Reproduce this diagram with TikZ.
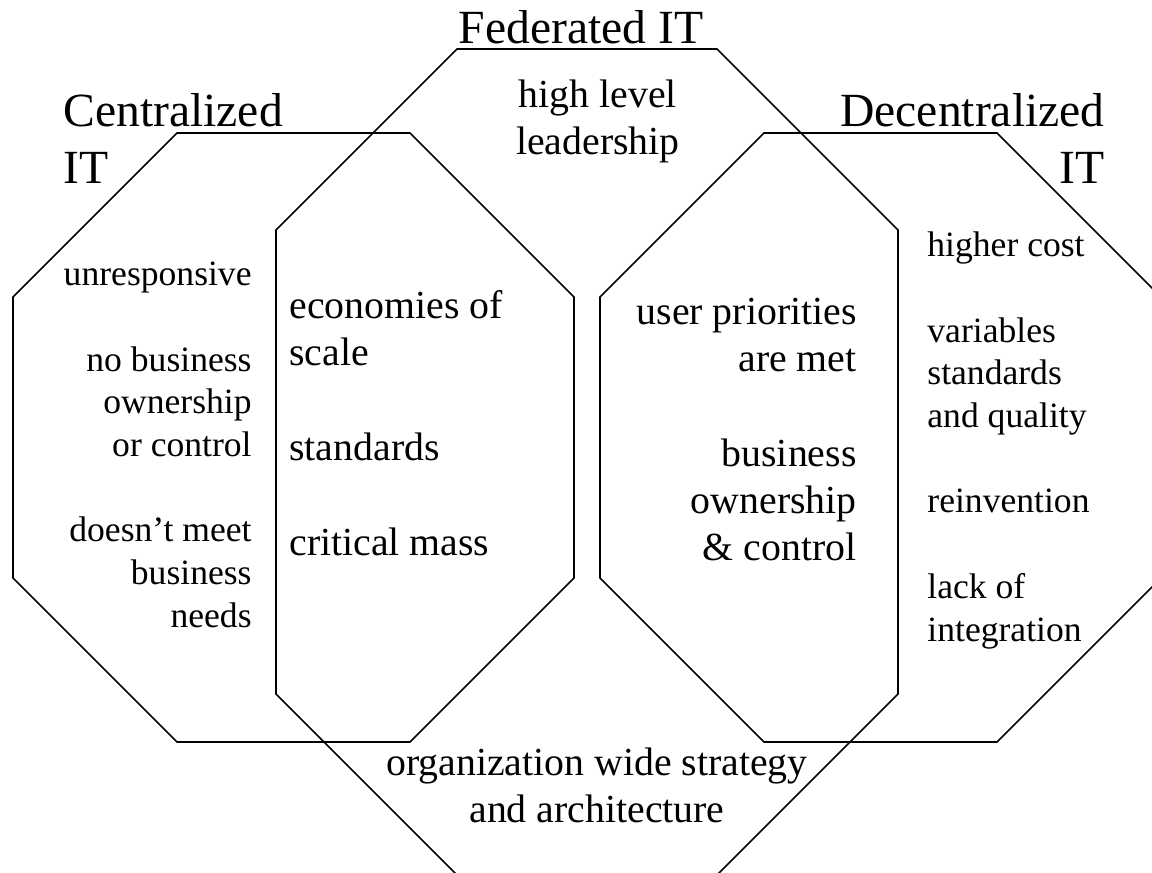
\documentclass[tikz,border=0pt]{standalone}
\usepackage{fontspec}
\setmainfont{Liberation Serif}

\tikzset{
  octa/.style={line width=0.8pt, line join=miter},
  title/.style={font=\fontsize{23.8}{28.5}\selectfont, inner sep=0pt},
  midtxt/.style={font=\fontsize{19.9}{23.5}\selectfont, inner sep=0pt},
  sidetxt/.style={font=\fontsize{17.8}{21.3}\selectfont, inner sep=0pt},
}

\begin{document}
\begin{tikzpicture}[x=0.5pt, y=-0.5pt]
  \useasboundingbox (0,0) rectangle (1152,873);

  % octagons: left/top/right/bottom/corner cut
  \foreach \l/\t/\r/\b/\c in {13/133/574/742/164, 276/49/898/875/181, 600/133/1161/742/164}
    \draw[octa] (\l+\c,\t) -- (\r-\c,\t) -- (\r,\t+\c) -- (\r,\b-\c) -- (\r-\c,\b)
      -- (\l+\c,\b) -- (\l,\b-\c) -- (\l,\t+\c) -- cycle;

  % headings (base = last line)
  \node[title, anchor=base west, align=left] (central) at (63,183) {Centralized\\IT};
  \node[title, anchor=base] (federated) at (581,43) {Federated IT};
  \node[title, anchor=base east, align=right] (decentral) at (1105,183) {Decentralized\\IT};

  % centralized only
  \node[sidetxt, anchor=base east, align=right] (centcons) at (252,627)
    {unresponsive\\[21.5pt]no business\\ownership\\or control\\[21.5pt]doesn't meet\\business\\needs};

  % centralized + federated
  \node[midtxt, anchor=base west, align=left] (centpros) at (289,555)
    {economies of\\scale\\[24pt]standards\\[24pt]critical mass};

  % federated only
  \node[midtxt, anchor=base, align=center] (lead) at (598,154) {high level\\leadership};
  \node[midtxt, anchor=base, align=center] (strat) at (597,822)
    {organization wide strategy\\and architecture};

  % decentralized + federated
  \node[midtxt, anchor=base east, align=right] (decpros) at (857,560)
    {user priorities\\are met\\[24pt]business\\ownership\\\& control};

  % decentralized only
  \node[sidetxt, anchor=base west, align=left] (deccons) at (927,641)
    {higher cost\\[21.5pt]variables\\standards\\and quality\\[21.5pt]reinvention\\[21.5pt]lack of\\integration};
\end{tikzpicture}
\end{document}
